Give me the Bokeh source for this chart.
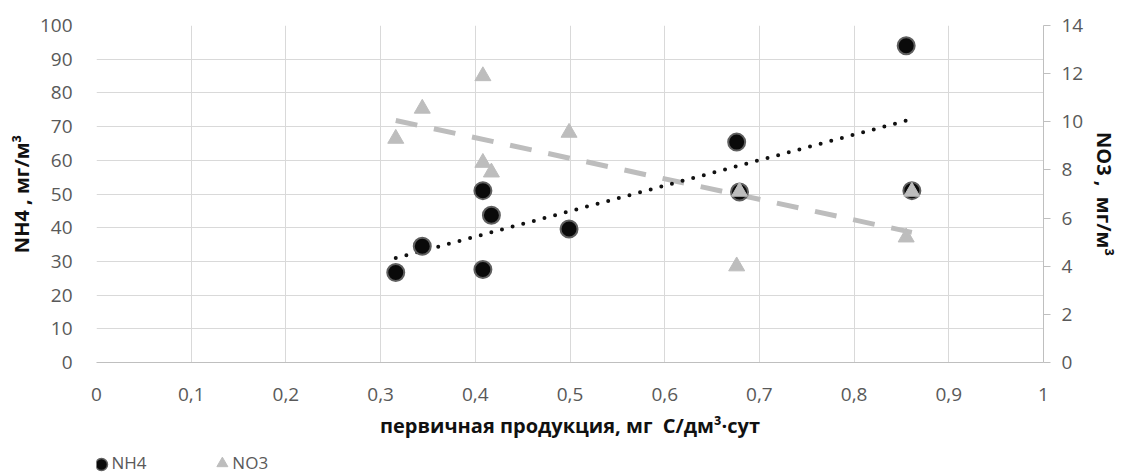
import numpy as np
from bokeh.plotting import figure
from bokeh.layouts import column
from bokeh.models import Range1d, LinearAxis, FixedTicker, ColumnDataSource
from bokeh.core.properties import value
from bokeh.embed import file_html
from bokeh.resources import INLINE

# primary production, mg C/dm3 per day (same samples for both series)
production = [0.316, 0.344, 0.408, 0.408, 0.417, 0.499, 0.676, 0.679, 0.855, 0.861]
nh4 = [26.7, 34.5, 27.6, 51.0, 43.7, 39.6, 65.4, 50.6, 94.0, 51.0]
no3 = [9.3, 10.55, 11.9, 8.3, 7.9, 9.55, 4.0, 7.1, 5.2, 7.1]

x_ticks = [0, 0.1, 0.2, 0.3, 0.4, 0.5, 0.6, 0.7, 0.8, 0.9, 1]
x_tick_labels = ["0", "0,1", "0,2", "0,3", "0,4", "0,5", "0,6", "0,7", "0,8", "0,9", "1"]
left_ticks = [0, 10, 20, 30, 40, 50, 60, 70, 80, 90, 100]
right_ticks = [0, 2, 4, 6, 8, 10, 12, 14]
series_names = ["NH4", "NO3"]

FONT = "Open Sans"
TICK_COLOR = "#595959"
GRID_COLOR = "#d9d9d9"
NH4_FILL, NH4_EDGE = "#0a0a0a", "#606060"
NO3_COLOR = "#bdbdbd"
NBSP = "\u00a0"

W, H_MAIN, H_LEG = 1121, 448, 25
LEFT, RIGHT = 96, 77

p = figure(width=W, height=H_MAIN, output_backend="svg", toolbar_location=None,
           x_range=Range1d(0, 1), y_range=Range1d(0, 100),
           min_border_left=LEFT, min_border_right=RIGHT, min_border_top=25,
           min_border_bottom=86, outline_line_color=None)
p.extra_y_ranges = {"no3": Range1d(0, 14)}

# linear trend lines over the sampled range
xs = np.array(production)
x_fit = np.array([xs.min(), xs.max()])
k1, b1 = np.polyfit(xs, np.array(nh4), 1)
k2, b2 = np.polyfit(xs, np.array(no3), 1)

p.line(x_fit, k2 * x_fit + b2, y_range_name="no3", line_color=NO3_COLOR,
       line_width=5, line_dash="22 17")
p.line(x_fit, k1 * x_fit + b1, line_color="#111111", line_width=4,
       line_dash="0 11", line_cap="round")

src = ColumnDataSource(dict(x=production, nh4=nh4, no3=no3))
p.scatter("x", "nh4", source=src, marker="circle", size=17,
          fill_color=NH4_FILL, line_color=NH4_EDGE, line_width=2)
p.scatter("x", "no3", source=src, y_range_name="no3", marker="triangle",
          size=16, fill_color=NO3_COLOR, line_color=NO3_COLOR)

# grid
p.xgrid.ticker = FixedTicker(ticks=x_ticks)
p.ygrid.ticker = FixedTicker(ticks=left_ticks)
for g in (p.xgrid, p.ygrid):
    g.grid_line_color = GRID_COLOR
    g.grid_line_width = 1

# bottom axis
xa = p.xaxis[0]
xa.ticker = FixedTicker(ticks=x_ticks)
xa.major_label_overrides = dict(zip(x_ticks, x_tick_labels))
xa.axis_label = "первичная продукция, мг" + NBSP + " С/дм³·сут"

# left axis
ya = p.yaxis[0]
ya.ticker = FixedTicker(ticks=left_ticks)
ya.axis_label = "NH4 , мг/м³"

# right axis
ra = LinearAxis(y_range_name="no3", ticker=FixedTicker(ticks=right_ticks),
                axis_label="NO3 ," + NBSP + " мг/м³")
p.add_layout(ra, "right")

for ax in (xa, ya, ra):
    ax.major_label_text_font = FONT
    ax.major_label_text_font_size = "19px"
    ax.major_label_text_color = TICK_COLOR
    ax.axis_label_text_font = FONT
    ax.axis_label_text_font_size = "20px"
    ax.axis_label_text_font_style = "bold"
    ax.axis_label_text_color = "#111111"
    ax.minor_tick_line_color = None
    ax.major_tick_in = 0

xa.axis_line_color = "#bfbfbf"
xa.major_tick_out = 0
xa.major_label_standoff = 25
xa.axis_label_standoff = 8

ya.axis_line_color = None
ya.major_tick_out = 0
ya.major_label_standoff = 24
ya.axis_label_standoff = 2

ra.axis_line_color = "#bfbfbf"
ra.major_tick_line_color = "#bfbfbf"
ra.major_tick_out = 7
ra.major_label_standoff = 11
ra.axis_label_standoff = 5

# legend strip under the chart; its frame lines up with the chart frame,
# so the x range is given in page pixels
leg = figure(width=W, height=H_LEG, output_backend="svg", toolbar_location=None,
             x_range=Range1d(LEFT, W - RIGHT), y_range=Range1d(0, H_LEG),
             min_border=0, min_border_left=LEFT, min_border_right=RIGHT,
             outline_line_color=None)
leg.axis.visible = False
leg.grid.visible = False
leg.scatter([101], [9], marker="circle", size=12, fill_color=NH4_FILL,
            line_color=NH4_EDGE, line_width=1.5)
leg.scatter([222], [10], marker="triangle", size=11, fill_color=NO3_COLOR,
            line_color=NO3_COLOR)
leg.text([111, 232], [11, 11], text=series_names, text_font=value(FONT),
         text_font_size="17px", text_color=TICK_COLOR, text_baseline="middle")

layout = column(p, leg, spacing=0)
open("out.html", "w").write(file_html(layout, INLINE))
